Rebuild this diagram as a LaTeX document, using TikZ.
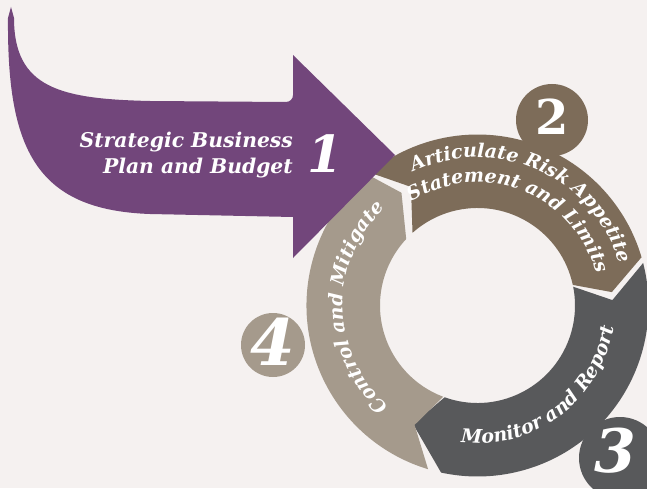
\documentclass[tikz,border=0pt]{standalone}
\usepackage{fontspec}
\setmainfont{DejaVu Serif}
\usetikzlibrary{decorations.text}

\definecolor{bgcol}{RGB}{245,241,240}
\definecolor{purplecol}{RGB}{114,70,123}
\definecolor{browncol}{RGB}{125,108,89}
\definecolor{greycol}{RGB}{88,89,91}
\definecolor{tancol}{RGB}{165,154,140}
\newcommand{\lblfont}{\fontsize{19}{22}\selectfont\bfseries\itshape}
\newcommand{\numfont}[1]{\fontsize{#1}{#1}\selectfont\bfseries\itshape}

\begin{document}
\begin{tikzpicture}[x=1pt,y=1pt,
    lbl/.style={text=white,font=\fontsize{20.3}{24}\selectfont\bfseries\itshape,inner sep=0pt},
    num/.style={text=white,font=\numfont{#1},anchor=base,inner sep=0pt},
    dot/.style={circle,inner sep=0pt,minimum size=#1},
    arctext/.style={decorate,decoration={text along path,text align=center,
      text color=white,text={|\lblfont|#1}}}]
  \fill[bgcol] (0,0) rectangle (647,488);
  \useasboundingbox (0,0) rectangle (647,488);
  \coordinate (c) at (477.5,182.5);

  % the ring, clockwise
  \fill[browncol] ([shift={(129:171)}]c) arc[start angle=129,end angle=16.4,radius=171]
    -- ([shift={(5.7:135)}]c) -- ([shift={(12.2:97.5)}]c)
    arc[start angle=12.2,end angle=131.8,radius=97.5] -- ([shift={(119.3:136)}]c) -- cycle;
  \fill[greycol] ([shift={(14.4:171)}]c) arc[start angle=14.4,end angle=-102.3,radius=171]
    -- ([shift={(-118.5:135)}]c) -- ([shift={(-109.7:97.5)}]c)
    arc[start angle=-109.7,end angle=11.1,radius=97.5] -- ([shift={(2.3:135)}]c) -- cycle;
  \fill[tancol] ([shift={(253.2:171)}]c) arc[start angle=253.2,end angle=130,radius=171]
    -- ([shift={(124:136)}]c) -- ([shift={(137:97.5)}]c)
    arc[start angle=137,end angle=249.4,radius=97.5] -- ([shift={(242.2:135)}]c) -- cycle;

  \node[dot=72,fill=browncol] (c2) at (552,368) {};
  \node[dot=82,fill=greycol] (c3) at (620,30) {};
  \node[dot=64,fill=tancol] (c4) at (273,143) {};

  % big arrow
  \fill[purplecol] (11,481) -- (14,470) .. controls (14,400) and (60,389) .. (150,387)
    -- (286,386) arc[start angle=-90,end angle=0,radius=7] -- (293,433) -- (395,333)
    -- (293,230) -- (293,271) -- (150,274) .. controls (35,278) and (7,340) .. (8,470) -- cycle;

  \node[lbl,anchor=base east] (s1) at (293,340) {Strategic Business};
  \node[lbl,anchor=base east] (s2) at (293,315) {Plan and Budget};
  \node[num=51] (n1) at (325,316) {1};
  \node[num=48,font=\numfont{48}\upshape] (n2) at (552,353) {2};
  \node[num=60] (n3) at (615,16) {3};
  \node[num=64] (n4) at (273,123) {4};

  \path[arctext={Articulate Risk Appetite}] ([shift={(126:148)}]c) arc[start angle=126,end angle=6,radius=148];
  \path[arctext={Statement and Limits}] ([shift={(128.5:123)}]c) arc[start angle=128.5,end angle=8.5,radius=123];
  \path[arctext={Monitor and Report}] ([shift={(247:138)}]c) arc[start angle=247,end angle=367,radius=138];
  \path[arctext={Control and Mitigate}] ([shift={(241:134.5)}]c) arc[start angle=241,end angle=121,radius=134.5];
\end{tikzpicture}
\end{document}
